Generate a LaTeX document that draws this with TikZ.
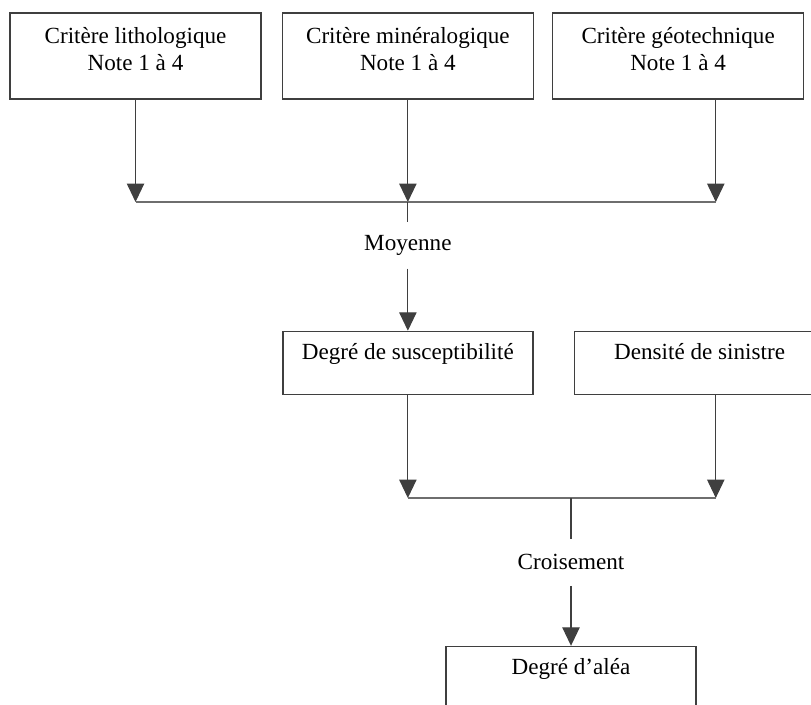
\documentclass[tikz,border=0pt]{standalone}
\usepackage{fontspec}
\setmainfont{Liberation Serif}
\usetikzlibrary{positioning,arrows.meta}
\definecolor{trait}{HTML}{3F3F3F}
\definecolor{joint}{HTML}{6E6E6E}

\begin{document}
\begin{tikzpicture}[
    font=\fontsize{12.5}{14.5}\selectfont,
    >={Triangle[width=0.33cm,length=0.35cm]},
    crit/.style={rectangle,draw=trait,line width=0.7pt,inner sep=0pt,
      minimum width=4.77cm,minimum height=1.634cm,align=center,text depth=0.27cm},
    degre/.style={rectangle,draw=trait,line width=0.7pt,inner sep=0pt,
      minimum width=4.75cm,text height=0.53cm,text depth=0.667cm},
    op/.style={inner sep=0pt,minimum height=0.874cm},
    fleche/.style={->,draw=trait,line width=0.6pt}
  ]
    \useasboundingbox (0,0) rectangle (15.409,-13.395);

    % les trois criteres
    \node[crit] (lith) at (2.575,-1.064) {Critère lithologique\\Note 1 à 4};
    \node[crit] (mine) [right=0.38cm of lith] {Critère minéralogique\\Note 1 à 4};
    \node[crit] (geot) [right=0.34cm of mine] {Critère géotechnique\\Note 1 à 4};

    \coordinate (jl) at (lith.south |- 0,-3.838);
    \coordinate (jm) at (mine.south |- 0,-3.838);
    \coordinate (jr) at (13.6,-3.838);

    \draw[fleche] (lith) -- (jl);
    \draw[fleche] (mine) -- (jm);
    \draw[fleche] (geot.south -| jr) -- (jr);
    \draw[joint,line width=0.6pt] (jl) -- (jr);

    \node[op] (moy)   [below=0.38cm of jm]  {Moyenne};
    \node[degre] (susc) [below=1.178cm of moy] {Degré de susceptibilité};
    \node[degre] (dens) [right=0.768cm of susc] {Densité de sinistre};

    \draw[trait,line width=0.6pt] (jm) -- (moy);
    \draw[fleche] (moy) -- (susc);

    % croisement
    \coordinate (kl) at (susc.south |- 0,-9.462);
    \coordinate (km) at (10.849,-9.462);
    \coordinate (kr) at (13.6,-9.462);

    \draw[fleche] (susc) -- (kl);
    \draw[fleche] (dens.south -| kr) -- (kr);
    \draw[joint,line width=0.6pt] (kl) -- (kr);

    \node[op] (crois) [below=0.78cm of km] {Croisement};
    \node[degre] (alea) [below=1.14cm of crois] {Degré d’aléa};

    \draw[trait,line width=0.6pt] (km) -- (crois);
    \draw[fleche] (crois) -- (alea);
\end{tikzpicture}
\end{document}
